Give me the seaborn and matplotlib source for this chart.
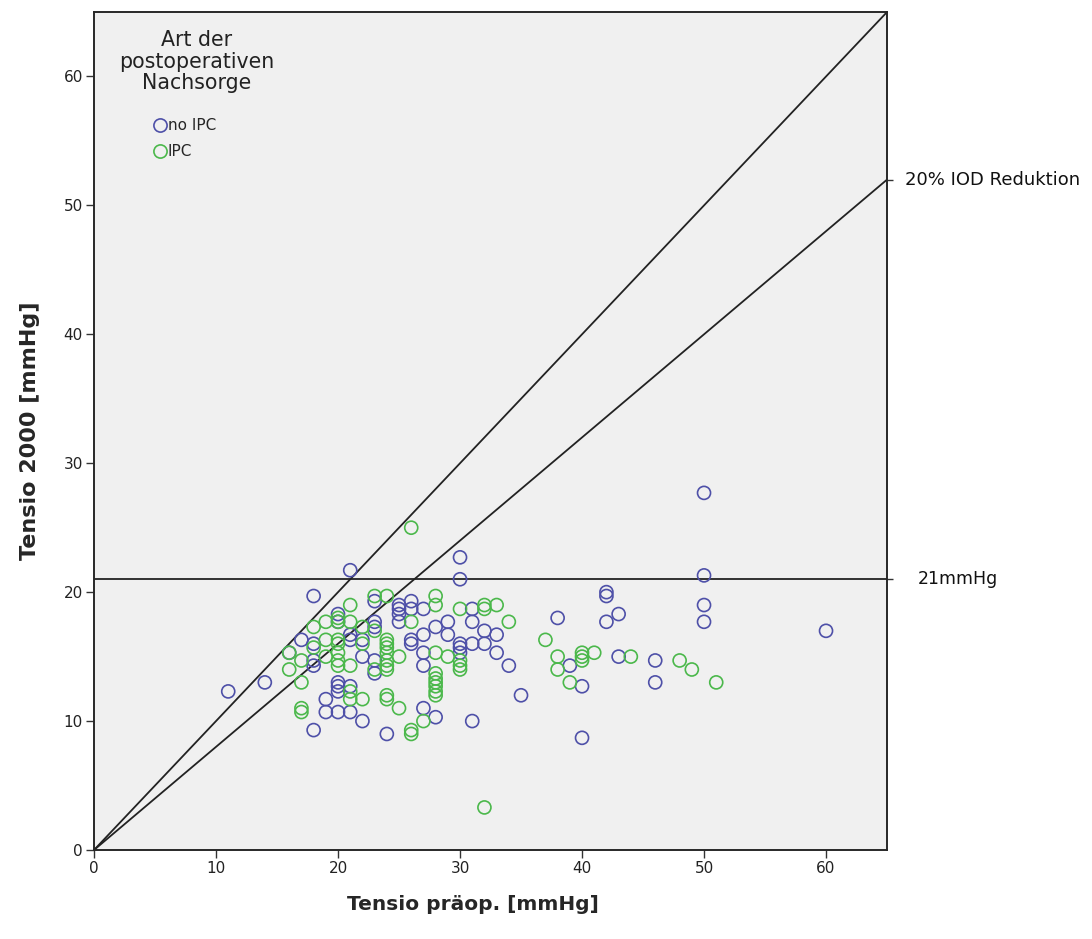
import numpy as np
import pandas as pd
import matplotlib
matplotlib.use("Agg")
import matplotlib.pyplot as plt
import seaborn as sns

# Eye pressure before surgery vs. in 2000, by follow-up type
noipc_x = [11, 14, 16, 17, 18, 18, 18, 18, 18, 19, 19,
           20, 20, 20, 20, 20, 20, 21, 21, 21, 21, 21,
           22, 22, 22, 23, 23, 23, 23, 23, 24,
           25, 25, 25, 25, 26, 26, 26, 26,
           27, 27, 27, 27, 27, 28, 28, 29, 29,
           30, 30, 30, 30, 30, 31, 31, 31, 31, 32, 32,
           33, 33, 34, 35, 38, 39, 40, 40, 42, 42, 42,
           43, 43, 46, 46, 50, 50, 50, 50, 60]
noipc_y = [12.3, 13.0, 15.3, 16.3, 19.7, 16.0, 14.7, 14.3, 9.3, 11.7, 10.7,
           18.3, 17.7, 13.0, 12.7, 12.3, 10.7, 21.7, 16.7, 16.3, 12.7, 10.7,
           16.3, 15.0, 10.0, 19.3, 17.7, 17.3, 14.7, 13.7, 9.0,
           19.0, 18.7, 18.3, 17.7, 19.3, 18.7, 16.3, 16.0,
           18.7, 16.7, 15.3, 14.3, 11.0, 17.3, 10.3, 17.7, 16.7,
           22.7, 21.0, 16.0, 15.7, 15.3, 18.7, 17.7, 16.0, 10.0, 17.0, 16.0,
           16.7, 15.3, 14.3, 12.0, 18.0, 14.3, 12.7, 8.7, 20.0, 19.7, 17.7,
           18.3, 15.0, 14.7, 13.0, 27.7, 21.3, 19.0, 17.7, 17.0]

ipc_x = [16, 16, 17, 17, 17, 17, 18, 18, 19, 19, 19,
         20, 20, 20, 20, 20, 20, 20, 21, 21, 21, 21, 21,
         22, 22, 22, 23, 23, 23,
         24, 24, 24, 24, 24, 24, 24, 24, 24, 24,
         25, 25, 26, 26, 26, 26, 27,
         28, 28, 28, 28, 28, 28, 28, 28, 28, 29,
         30, 30, 30, 30, 32, 32, 32, 33, 34, 37, 38, 38, 39,
         40, 40, 40, 41, 44, 48, 49, 51]
ipc_y = [15.3, 14.0, 14.7, 13.0, 11.0, 10.7, 17.3, 15.7, 17.7, 16.3, 15.0,
         18.0, 17.7, 16.3, 16.0, 15.3, 14.7, 14.3, 19.0, 17.7, 14.3, 12.3, 11.7,
         17.3, 16.0, 11.7, 19.7, 17.0, 14.0,
         19.7, 16.3, 16.0, 15.7, 15.3, 14.7, 14.3, 14.0, 12.0, 11.7,
         15.0, 11.0, 25.0, 17.7, 9.3, 9.0, 10.0,
         19.7, 19.0, 15.3, 13.7, 13.3, 13.0, 12.7, 12.3, 12.0, 15.0,
         18.7, 14.7, 14.3, 14.0, 19.0, 18.7, 3.3, 19.0, 17.7, 16.3, 15.0, 14.0, 13.0,
         15.3, 15.0, 14.7, 15.3, 15.0, 14.7, 14.0, 13.0]

groups = ["no IPC", "IPC"]
colors = {"no IPC": "#4E50A8", "IPC": "#4BB84B"}

legend_title = "Art der\npostoperativen\nNachsorge"
x_label = "Tensio präop. [mmHg]"
y_label = "Tensio 2000 [mmHg]"
threshold = 21
reduction = 0.8
axis_max = 65
ticks = [0, 10, 20, 30, 40, 50, 60]

df = pd.concat([
    pd.DataFrame({"x": noipc_x, "y": noipc_y, "g": "no IPC"}),
    pd.DataFrame({"x": ipc_x, "y": ipc_y, "g": "IPC"}),
], ignore_index=True)

sns.set_theme(style="ticks")
plt.rcParams["font.family"] = ["DejaVu Sans"]

fig = plt.figure(figsize=(10.92, 9.39), dpi=100)
ax = fig.add_axes([0.0861, 0.0948, 0.7262, 0.8924])
ax.set_facecolor("#F0F0F0")

handles = []
for g in groups:
    sub = df[df["g"] == g]
    sns.scatterplot(data=sub, x="x", y="y", ax=ax, s=88, marker="o",
                    facecolors="none", edgecolor=colors[g], linewidth=1.2,
                    legend=False, zorder=3)
    handles.append(plt.Line2D([], [], marker="o", linestyle="none",
                              markersize=9.5, markerfacecolor="none",
                              markeredgecolor=colors[g], markeredgewidth=1.2,
                              label=g))

# Reference lines: identity, 20 % reduction, 21 mmHg threshold
line_x = np.array([0, axis_max])
ax.plot(line_x, line_x, color="#222222", lw=1.3, zorder=2)
ax.plot(line_x, reduction * line_x, color="#222222", lw=1.3, zorder=2)
ax.axhline(threshold, color="#222222", lw=1.3, zorder=2)

ax.set_xlim(0, axis_max)
ax.set_ylim(0, axis_max)
ax.set_xticks(ticks)
ax.set_yticks(ticks)
ax.tick_params(axis="both", direction="out", length=6, width=1,
               color="#333333", labelsize=11, labelcolor="#222222", pad=2)
for s in ax.spines.values():
    s.set_visible(True)
    s.set_color("#333333")
    s.set_linewidth(1.1)

ax.set_xlabel(x_label, fontsize=14.5, fontweight="bold")
ax.set_ylabel(y_label, fontsize=16, fontweight="bold")
ax.xaxis.set_label_coords(0.478, -0.054)
ax.yaxis.set_label_coords(-0.068, 0.5)

# Right-hand annotations of the reference lines
ax2 = ax.twinx()
ax2.set_ylim(0, axis_max)
ax2.set_yticks([reduction * axis_max, threshold])
ax2.set_yticklabels([])
ax2.tick_params(axis="y", direction="out", length=4, width=1, color="#333333")
ax2.grid(False)
ax.text(axis_max + 1.5, reduction * axis_max, "20% IOD Reduktion",
        fontsize=13, va="center", ha="left", color="#111111", clip_on=False)
ax.text(axis_max + 2.5, threshold, "21mmHg",
        fontsize=12.5, va="center", ha="left", color="#111111", clip_on=False)

# Legend: group title above the two marker entries
ax.text(0.129, 0.9785, legend_title, transform=ax.transAxes, ha="center",
        va="top", fontsize=14.8, linespacing=1.1, color="#222222")
leg = ax.legend(handles=handles, loc="upper left",
                bbox_to_anchor=(0.073, 0.8735), frameon=False, fontsize=11,
                borderpad=0, borderaxespad=0, handletextpad=0.05,
                labelspacing=0.75, handlelength=1.0)

fig.savefig("out.png", dpi=100, facecolor="white")
